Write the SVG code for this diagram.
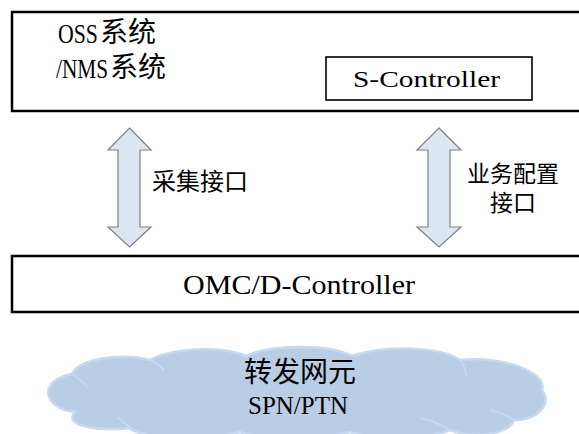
<svg xmlns="http://www.w3.org/2000/svg" width="579" height="434" viewBox="0 0 579 434">
<style>
.box{fill:#fff;stroke:#000;stroke-width:2.5}
.sbox{fill:#fff;stroke:#000;stroke-width:1.6}
.lat{font-family:"Liberation Serif",serif;fill:#000}
.cjk{font-family:"Noto Sans CJK SC",sans-serif;fill:#000}
.arrow{fill:#dce6f2;stroke:#7f7f7f;stroke-width:1.2}
.cloud{fill:#b9cde5;stroke:#c6d9f0;stroke-width:2.5}
.inner{fill:none;stroke:#c6d9f0;stroke-width:2}
</style>
<rect width="579" height="434" fill="#fff"/>
<g id="oss">
<rect class="box" x="12" y="12" width="590" height="99"/>
<text x="58" y="43"><tspan class="lat" font-size="28" textLength="40" lengthAdjust="spacingAndGlyphs">OSS</tspan><tspan class="cjk" font-size="28" dx="2" dy="-1">系统</tspan></text>
<text x="56" y="78"><tspan class="lat" font-size="28" textLength="52" lengthAdjust="spacingAndGlyphs">/NMS</tspan><tspan class="cjk" font-size="28" dx="2" dy="-1">系统</tspan></text>
</g>
<g id="s-controller">
<rect class="sbox" x="326" y="57" width="206" height="43"/>
<text class="lat" x="353" y="87" font-size="24" textLength="147" lengthAdjust="spacingAndGlyphs">S-Controller</text>
</g>
<g id="connectors">
<path class="arrow" d="M129.5,128 L151,150 L140,150 L140,227 L151,227 L129.5,247 L108,227 L118,227 L118,150 L108,150 Z"/>
<path class="arrow" d="M439,128 L461,150 L450,150 L450,227 L461,227 L439,247 L417,227 L428,227 L428,150 L417,150 Z"/>
<text class="cjk" x="152" y="190" font-size="24">采集接口</text>
<text class="cjk" x="467" y="182" font-size="23">业务配置</text>
<text class="cjk" x="490" y="211" font-size="23">接口</text>
</g>
<g id="omc">
<rect class="box" x="12" y="256" width="590" height="56"/>
<text class="lat" x="183" y="294" font-size="28" textLength="232" lengthAdjust="spacingAndGlyphs">OMC/D-Controller</text>
</g>
<g id="cloud">
<path class="cloud" d="M75,412 C42,408 38,380 72,374 C78,360 118,352 150,360 C172,348 222,345 246,356 C272,344 330,344 352,356 C384,345 440,346 460,360 C502,356 548,372 542,390 C552,402 540,420 514,420 C508,436 470,438 450,430 C428,440 372,440 350,432 C320,440 262,440 240,432 C210,440 142,440 130,428 C100,432 62,426 75,412 Z"/>
<path class="inner" d="M72,374 C78,378 84,382 88,388"/>
<path class="inner" d="M150,360 C156,362 160,366 164,370"/>
<path class="inner" d="M460,360 C464,365 466,370 466,376"/>
<path class="inner" d="M514,420 C508,416 500,412 490,410"/>
<path class="inner" d="M450,430 C440,424 430,420 420,418"/>
<path class="inner" d="M130,428 C126,424 122,420 118,418"/>
<text class="cjk" x="244" y="382" font-size="28">转发网元</text>
<text class="lat" x="248" y="414" font-size="26" textLength="100" lengthAdjust="spacingAndGlyphs">SPN/PTN</text>
</g>
</svg>
